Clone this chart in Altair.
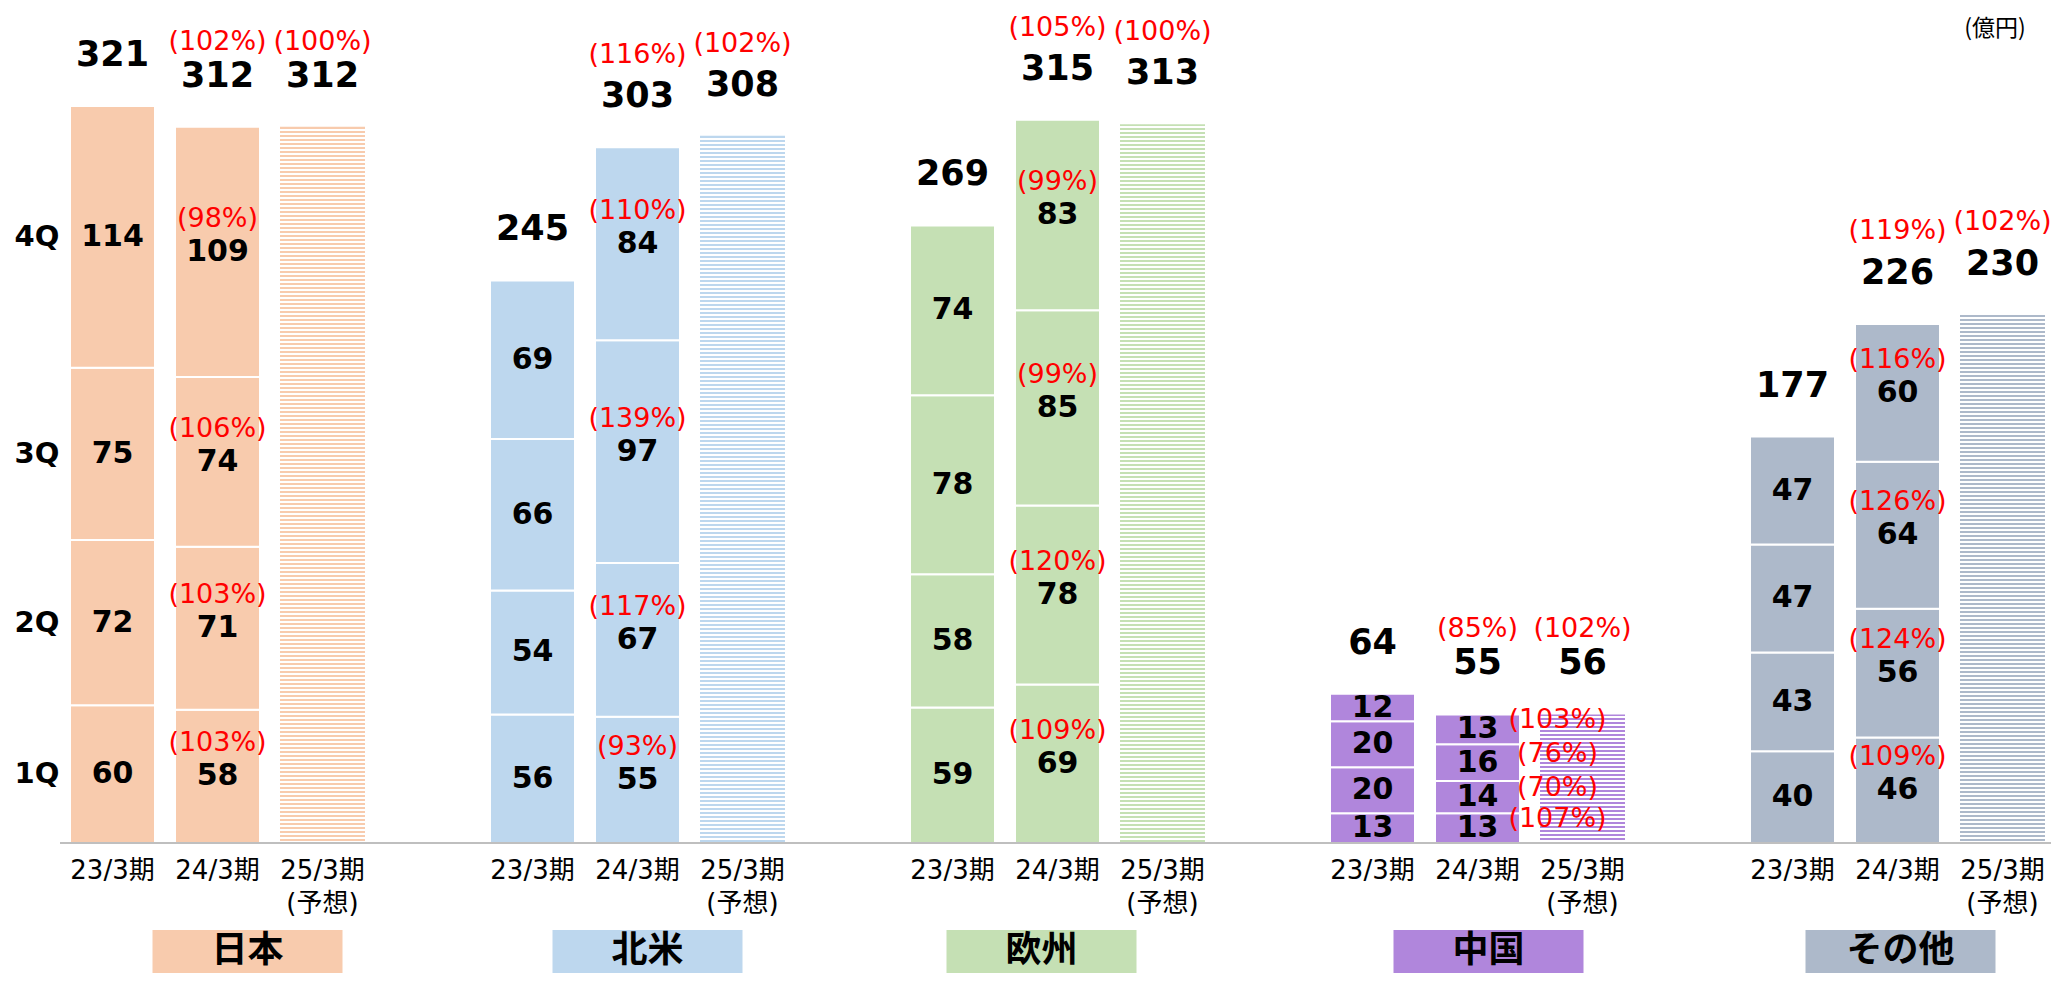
import math
import altair as alt
import pandas as pd

# ---------------- data ----------------
REGIONS = ["日本", "北米", "欧州", "中国", "その他"]
PERIODS = ["23/3期", "24/3期", "25/3期\n(予想)"]
QUARTERS = ["1Q", "2Q", "3Q", "4Q"]

FY23_Q = [[60, 72, 75, 114], [56, 54, 66, 69], [59, 58, 78, 74], [13, 20, 20, 12], [40, 43, 47, 47]]
FY24_Q = [[58, 71, 74, 109], [55, 67, 97, 84], [69, 78, 85, 83], [13, 14, 16, 13], [46, 56, 64, 60]]
FY24_Q_PCT = [[103, 103, 106, 98], [93, 117, 139, 110], [109, 120, 99, 99], [107, 70, 76, 103], [109, 124, 126, 116]]
TOTAL_23 = [321, 245, 269, 64, 177]
TOTAL_24 = [312, 303, 315, 55, 226]
TOTAL_24_PCT = [102, 116, 105, 85, 119]
FCST_25 = [312, 308, 313, 56, 230]
FCST_25_PCT = [100, 102, 100, 102, 102]
UNIT = "(億円)"

# ---------------- styles / layout ----------------
COLORS = ["#F8CBAD", "#BDD7EE", "#C5E0B4", "#B086DC", "#ADB9CA"]
RED = "#FF0000"
AXIS_GRAY = "#BFBFBF"
LATIN = "DejaVu Sans, Noto Sans CJK JP"
CJK = "Noto Sans CJK JP"
PX_PER_UNIT = 2.296
BASE_Y = 835
W, H = 2043, 965
BOX_SHIFT = [30, 10, -16, 11, 3]
TOTAL_PCT_DY = [-85, -92, -92, -85, -93]
PCT_SIZE = 27
SIDE_PCT_REGION = "中国"

# ---------------- scales ----------------
domain = []
for i, r in enumerate(REGIONS):
    for p in range(3):
        domain.append(f"{r}|{p}")
    if i < len(REGIONS) - 1:
        domain.append(f"gap{i}")

XS = alt.Scale(type="band", domain=domain, range=[62, 2037], paddingInner=20 / 105, paddingOuter=0)
YS = alt.Scale(domain=[0, 300], range=[BASE_Y, BASE_Y - 300 * PX_PER_UNIT], nice=False, zero=True)


def X():
    return alt.X("key:N", scale=XS, axis=None)


# ---------------- tables ----------------
seg_rows = []
for i, r in enumerate(REGIONS):
    for p, qs in enumerate([FY23_Q[i], FY24_Q[i]]):
        cum = 0
        for q, v in enumerate(qs):
            row = dict(key=f"{r}|{p}", region=r, period=p, q=QUARTERS[q], value=v,
                       y0=cum, y1=cum + v, mid=cum + v / 2, label=str(v))
            row["pct"] = f"({FY24_Q_PCT[i][q]}%)" if p == 1 else ""
            seg_rows.append(row)
            cum += v
seg = pd.DataFrame(seg_rows)

tot_rows = []
for i, r in enumerate(REGIONS):
    top23 = sum(FY23_Q[i])
    top24 = sum(FY24_Q[i])
    tot_rows.append(dict(key=f"{r}|0", ri=i, top=top23, label=str(TOTAL_23[i]), pct=""))
    tot_rows.append(dict(key=f"{r}|1", ri=i, top=top24, label=str(TOTAL_24[i]), pct=f"({TOTAL_24_PCT[i]}%)"))
    tot_rows.append(dict(key=f"{r}|2", ri=i, top=FCST_25[i], label=str(FCST_25[i]), pct=f"({FCST_25_PCT[i]}%)"))
tot = pd.DataFrame(tot_rows)

cat = pd.DataFrame([dict(key=f"{r}|{p}", label=PERIODS[p]) for r in REGIONS for p in range(3)])

layers = []

# stacked quarterly bars
layers.append(
    alt.Chart(seg).mark_bar(stroke="white", strokeWidth=2).encode(
        x=X(),
        y=alt.Y("y0:Q", scale=YS, axis=None),
        y2="y1:Q",
        color=alt.Color("region:N", scale=alt.Scale(domain=REGIONS, range=COLORS), legend=None),
    )
)


# forecast bars with horizontal stripes
def stripes(color, value):
    hpx = value * PX_PER_UNIT
    n = int(math.ceil(hpx / 4))
    stops = []
    for k in range(n):
        a = min(k * 4 / hpx, 1)
        b = min((k * 4 + 2) / hpx, 1)
        c = min((k + 1) * 4 / hpx, 1)
        stops += [dict(offset=a, color=color), dict(offset=b, color=color),
                  dict(offset=b, color="white"), dict(offset=c, color="white")]
    return dict(gradient="linear", x1=0, y1=0, x2=0, y2=1, stops=stops)


for i, r in enumerate(REGIONS):
    df = pd.DataFrame({"key": [f"{r}|2"], "v": [FCST_25[i]]})
    layers.append(
        alt.Chart(df).mark_bar(fill=stripes(COLORS[i], FCST_25[i]), strokeWidth=0).encode(
            x=X(), y=alt.Y("v:Q", scale=YS, axis=None), y2=alt.datum(0)
        )
    )

# baseline
layers.append(
    alt.Chart(pd.DataFrame({"z": [0]})).mark_rule(color=AXIS_GRAY, strokeWidth=2).encode(
        y=alt.Y("z:Q", scale=YS, axis=None), x=alt.value(52), x2=alt.value(W)
    )
)

# segment values
layers.append(
    alt.Chart(seg).mark_text(font=LATIN, fontSize=30, fontWeight="bold", color="black", baseline="middle").encode(
        x=X(), y=alt.Y("mid:Q", scale=YS, axis=None), text="label:N"
    )
)
seg24 = seg[seg.period == 1]
layers.append(
    alt.Chart(seg24[seg24.region != SIDE_PCT_REGION]).mark_text(
        font=LATIN, fontSize=PCT_SIZE, color=RED, baseline="middle", dy=-33
    ).encode(x=X(), y=alt.Y("mid:Q", scale=YS, axis=None), text="pct:N")
)
layers.append(
    alt.Chart(seg24[seg24.region == SIDE_PCT_REGION]).mark_text(
        font=LATIN, fontSize=PCT_SIZE, color=RED, baseline="middle", dx=80, dy=-9
    ).encode(x=X(), y=alt.Y("mid:Q", scale=YS, axis=None), text="pct:N")
)

# totals
layers.append(
    alt.Chart(tot).mark_text(font=LATIN, fontSize=35, fontWeight="bold", color="black", baseline="middle", dy=-51).encode(
        x=X(), y=alt.Y("top:Q", scale=YS, axis=None), text="label:N"
    )
)
for i, r in enumerate(REGIONS):
    sub = tot[(tot.pct != "") & (tot.ri == i)]
    layers.append(
        alt.Chart(sub).mark_text(font=LATIN, fontSize=PCT_SIZE, color=RED, baseline="middle", dy=TOTAL_PCT_DY[i]).encode(
            x=X(), y=alt.Y("top:Q", scale=YS, axis=None), text="pct:N"
        )
    )

# quarter labels on the left (aligned to first bar's segments)
qlab = seg[(seg.region == REGIONS[0]) & (seg.period == 0)]
layers.append(
    alt.Chart(qlab).mark_text(font=LATIN, fontSize=29, fontWeight="bold", color="black", baseline="middle").encode(
        x=alt.value(29), y=alt.Y("mid:Q", scale=YS, axis=None), text="q:N"
    )
)

# period labels under bars
layers.append(
    alt.Chart(cat).mark_text(font=LATIN, fontSize=26, color="black", baseline="top", lineBreak="\n", lineHeight=33).encode(
        x=X(), y=alt.value(850), text="label:N"
    )
)

# region boxes
for i, r in enumerate(REGIONS):
    df = pd.DataFrame({"key": [f"{r}|1"], "name": [r]})
    layers.append(
        alt.Chart(df).mark_bar(width=190, xOffset=BOX_SHIFT[i], color=COLORS[i]).encode(
            x=X(), y=alt.value(922), y2=alt.value(H)
        )
    )
    layers.append(
        alt.Chart(df).mark_text(font=CJK, fontSize=36, fontWeight="bold", color="black", baseline="middle",
                                dx=BOX_SHIFT[i]).encode(
            x=X(), y=alt.value(943), text="name:N"
        )
    )

# unit label
layers.append(
    alt.Chart(pd.DataFrame({"t": [UNIT]})).mark_text(font=CJK, fontSize=23, color="black", baseline="middle").encode(
        x=alt.value(1987), y=alt.value(21), text="t:N"
    )
)

chart = alt.layer(*layers).properties(
    width=W, height=H, padding=0, autosize=alt.AutoSizeParams(type="none")
).configure_view(stroke=None)

chart.save("out.html", embed_options={"renderer": "svg", "actions": False})
